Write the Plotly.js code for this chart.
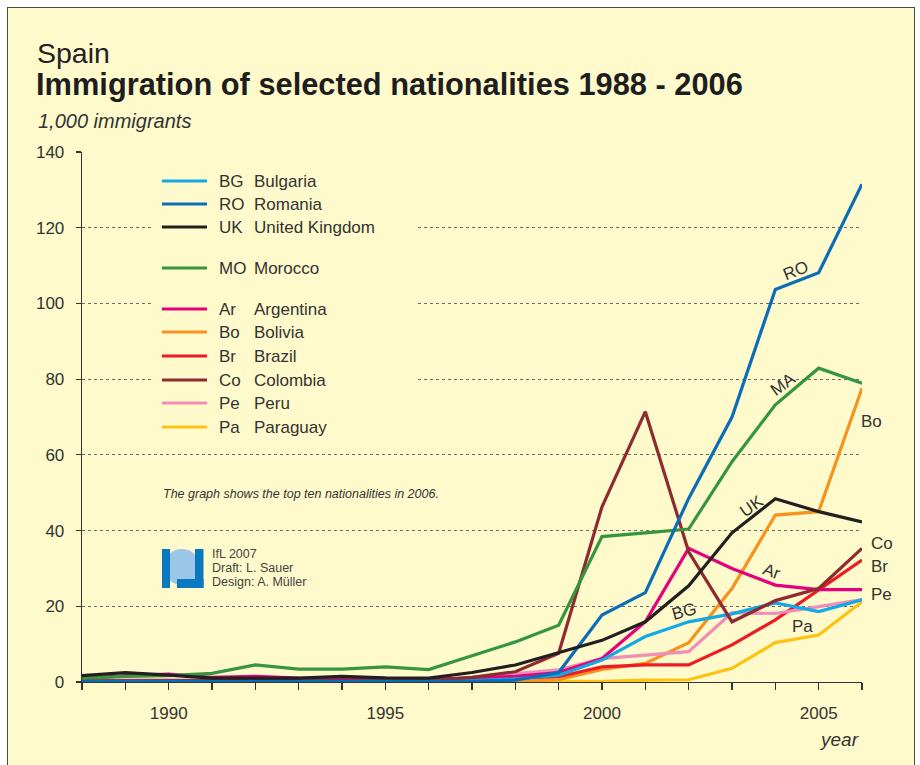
<!DOCTYPE html>
<html>
<head>
<meta charset="utf-8">
<script src="https://cdn.plot.ly/plotly-3.0.1.min.js"></script>
<style>
  html, body { margin: 0; padding: 0; background: #ffffff; width: 920px; height: 765px; overflow: hidden; }
  #frame { position: absolute; left: 7px; top: 7px; width: 906px; height: 800px; background: #FFFACB; border: 1.5px solid #4a4a4a; }
  #chart { position: absolute; left: 0; top: 0; width: 920px; height: 765px; }
</style>
</head>
<body>
<div id="frame"></div>
<div id="chart"></div>
<script>
// ---- data ----
const years = [1988,1989,1990,1991,1992,1993,1994,1995,1996,1997,1998,1999,2000,2001,2002,2003,2004,2005,2006];
const codes = ["BG","RO","UK","MO","Ar","Bo","Br","Co","Pe","Pa"];
const countries = ["Bulgaria","Romania","United Kingdom","Morocco","Argentina","Bolivia","Brazil","Colombia","Peru","Paraguay"];
const bulgaria  = [0.2,0.2,0.2,0.2,0.2,0.2,0.2,0.2,0.2,0.4,0.8,1.8,5.8,12.0,15.9,18.0,20.9,18.6,21.7];
const romania   = [0.1,0.1,0.1,0.1,0.1,0.1,0.1,0.1,0.1,0.2,0.5,2.5,17.7,23.6,48.5,70.0,103.7,108.1,131.5];
const uk        = [1.7,2.5,1.8,1.0,1.0,1.0,1.5,1.1,1.0,2.5,4.5,7.8,11.0,15.9,25.4,39.4,48.4,45.0,42.3];
const morocco   = [1.0,1.5,1.7,2.3,4.5,3.4,3.4,4.0,3.3,7.0,10.6,15.0,38.4,39.4,40.4,58.2,73.2,82.9,78.9];
const argentina = [0.8,1.7,2.1,1.2,1.5,1.0,0.8,0.8,0.7,1.0,1.5,2.5,6.2,15.9,35.3,30.0,25.6,24.4,24.4];
const bolivia   = [0,0,0,0,0,0,0,0,0,0.1,0.2,0.6,3.3,4.9,10.4,24.7,44.1,45.0,77.6];
const brazil    = [0.3,0.3,0.3,0.3,0.3,0.3,0.3,0.3,0.4,0.6,1.0,1.4,4.0,4.5,4.5,9.8,16.4,24.3,32.2];
const colombia  = [0.3,0.3,0.3,0.3,0.4,0.3,0.4,0.4,0.4,1.2,2.7,7.6,46.3,71.4,34.4,15.9,21.5,24.7,35.3];
const peru      = [0.5,0.5,0.5,0.5,0.5,0.5,0.6,0.6,0.6,1.2,2.1,3.2,6.2,7.1,8.0,18.3,18.1,19.9,21.8];
const paraguay  = [0,0,0,0,0,0,0,0,0,0,0,0.1,0.2,0.5,0.6,3.6,10.4,12.4,21.2];
const series = [bulgaria, romania, uk, morocco, argentina, bolivia, brazil, colombia, peru, paraguay];
const lineLabels = ["BG","RO","UK","MA","Ar","Bo","Br","Co","Pe","Pa"];
const xTickLabels = ["1990","1995","2000","2005"];

// ---- styles ----
const colors = ["#12A9E6","#0A6DB8","#231F20","#35963F","#E5007D","#F6921E","#EC1C24","#8D2B30","#F08DB8","#FEC212"];
const FONT = "Liberation Sans, Arial, Helvetica, sans-serif";
const TXT = "#333333";
const BG = "#FFFACB";

// pixel helpers for paper coordinates (plot area 82..862 x 152..682)
const PL = 82, PR = 862, PT = 152, PB = 682;
const px = x => (x - PL) / (PR - PL);
const py = y => (PB - y) / (PB - PT);

// draw order: back to front
const drawOrder = [9,5,6,8,4,0,7,3,1,2];
const traces = drawOrder.map(i => ({
  type: "scatter", mode: "lines", x: years, y: series[i], name: countries[i],
  line: {color: colors[i], width: 3.2}, showlegend: false, hoverinfo: "skip"
}));

const annotations = [];
const shapes = [];

// mask behind legend (hides gridlines; no data passes through this region)
shapes.push({type:"rect", xref:"paper", yref:"paper", layer:"above", x0: px(152), x1: px(418), y0: py(440), y1: py(166),
  fillcolor: BG, line:{width:0}});

// Titles
annotations.push({xref:"paper", yref:"paper", x: px(35), y: py(53), xanchor:"left", yanchor:"middle",
  text:"Spain", showarrow:false, font:{family:FONT, size:28.5, color:"#222"}});
annotations.push({xref:"paper", yref:"paper", x: px(34), y: py(84), xanchor:"left", yanchor:"middle",
  text:"<b>Immigration of selected nationalities 1988 - 2006</b>", showarrow:false, font:{family:FONT, size:30.8, color:"#1e1e1e"}});
annotations.push({xref:"paper", yref:"paper", x: px(36), y: py(121), xanchor:"left", yanchor:"middle",
  text:"<i>1,000 immigrants</i>", showarrow:false, font:{family:FONT, size:20, color:"#333"}});
annotations.push({xref:"paper", yref:"paper", x: px(861), y: py(739), xanchor:"right", yanchor:"middle",
  text:"<i>year</i>", showarrow:false, font:{family:FONT, size:19, color:"#333"}});

// Legend (custom)
const legendRows = [181, 204, 227, 268, 309, 332, 356, 380, 403, 427];
codes.forEach((c, i) => {
  const yy = legendRows[i];
  shapes.push({type:"line", xref:"paper", yref:"paper", x0: px(162), x1: px(207), y0: py(yy), y1: py(yy),
    line:{color: colors[i], width: 3.2}});
  annotations.push({xref:"paper", yref:"paper", x: px(217), y: py(yy), xanchor:"left", yanchor:"middle",
    text: c, showarrow:false, font:{family:FONT, size:17, color:TXT}});
  annotations.push({xref:"paper", yref:"paper", x: px(252), y: py(yy), xanchor:"left", yanchor:"middle",
    text: countries[i], showarrow:false, font:{family:FONT, size:17, color:TXT}});
});

// Note
annotations.push({xref:"paper", yref:"paper", x: px(161), y: py(494), xanchor:"left", yanchor:"middle",
  text:"<i>The graph shows the top ten nationalities in 2006.</i>", showarrow:false, font:{family:FONT, size:12.5, color:"#333"}});

// Logo (IfL)
shapes.push({type:"circle", xref:"paper", yref:"paper", x0: px(164), x1: px(200), y0: py(585), y1: py(549),
  fillcolor:"#9CC6E8", line:{width:0}});
shapes.push({type:"rect", xref:"paper", yref:"paper", x0: px(162), x1: px(170), y0: py(588), y1: py(549),
  fillcolor:"#0A78BE", line:{width:0}});
shapes.push({type:"rect", xref:"paper", yref:"paper", x0: px(195), x1: px(203.5), y0: py(588), y1: py(549),
  fillcolor:"#0A78BE", line:{width:0}});
shapes.push({type:"rect", xref:"paper", yref:"paper", x0: px(177), x1: px(203.5), y0: py(588), y1: py(579),
  fillcolor:"#0A78BE", line:{width:0}});
const credits = ["IfL 2007","Draft: L. Sauer","Design: A. Müller"];
const creditRows = [554, 568, 582];
credits.forEach((t, i) => annotations.push({xref:"paper", yref:"paper", x: px(210), y: py(creditRows[i]),
  xanchor:"left", yanchor:"middle", text:t, showarrow:false, font:{family:FONT, size:12.5, color:"#444"}}));

// Line labels (data coords)
const lab = (txt, x, y, ang) => annotations.push({xref:"x", yref:"y", x:x, y:y, text:txt, showarrow:false,
  textangle: ang, xanchor: "center", yanchor:"middle", font:{family:FONT, size:17, color:TXT}});
lab(lineLabels[1], 2004.48, 108.7, -22);
lab(lineLabels[3], 2004.17, 78.6, -36);
lab(lineLabels[2], 2003.45, 46.3, -35);
lab(lineLabels[4], 2003.92, 29.2, 20);
lab(lineLabels[0], 2001.9, 18.5, -15);
lab(lineLabels[9], 2004.62, 14.7, 0);
// right-edge labels: x in paper space (beyond the axis end), y in data space
const rlab = (txt, y, shift) => annotations.push({xref:"paper", yref:"y", x:1, y:y, xshift: shift, text:txt, showarrow:false,
  xanchor:"left", yanchor:"middle", font:{family:FONT, size:17, color:TXT}});
rlab(lineLabels[5], 68.8, -3);
rlab(lineLabels[7], 36.6, 7);
rlab(lineLabels[6], 30.5, 7);
rlab(lineLabels[8], 23.0, 7);

const tickText = years.map(y => xTickLabels.includes(String(y)) ? String(y) : "");

const layout = {
  width: 920, height: 765,
  margin: {l: PL, r: 920 - PR, t: PT, b: 765 - PB, pad: 0},
  paper_bgcolor: "rgba(0,0,0,0)", plot_bgcolor: "rgba(0,0,0,0)",
  showlegend: false,
  font: {family: FONT, color: TXT},
  xaxis: {
    range: [1988, 2006], tickmode: "array", tickvals: years, ticktext: tickText,
    ticks: "outside", ticklen: 7, tickwidth: 1.2, tickcolor: "#333",
    showline: true, linecolor: "#333", linewidth: 1.3, showgrid: false, zeroline: false,
    tickfont: {family: FONT, size: 17, color: TXT}, ticklabelstandoff: 8, fixedrange: true
  },
  yaxis: {
    range: [0, 140], tickmode: "linear", tick0: 0, dtick: 20,
    ticks: "outside", ticklen: 5, tickwidth: 1.2, tickcolor: "#333",
    showline: true, linecolor: "#333", linewidth: 1.3,
    showgrid: true, gridcolor: "#6e6e6e", gridwidth: 1, griddash: "dot", zeroline: false,
    tickfont: {family: FONT, size: 17, color: TXT}, ticklabelstandoff: 8, fixedrange: true
  },
  annotations: annotations,
  shapes: shapes
};

Plotly.newPlot("chart", traces, layout, {displayModeBar: false, staticPlot: true});
</script>
</body>
</html>
